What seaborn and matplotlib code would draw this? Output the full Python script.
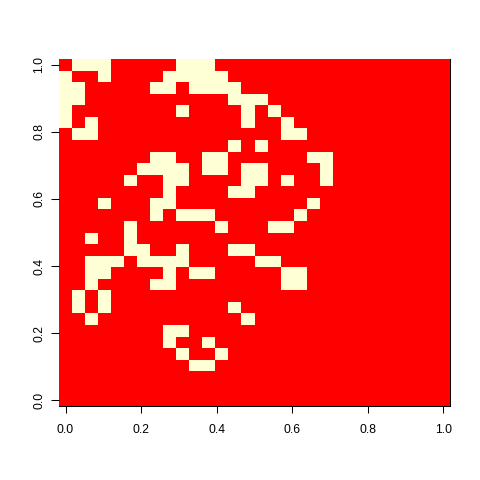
import numpy as np
import seaborn as sns
import matplotlib.pyplot as plt
from matplotlib.colors import ListedColormap

# columns of the pale cells in each row, top row first
row_00 = [1, 2, 3, 9, 10, 11]
row_01 = [0, 3, 8, 9, 10, 11, 12]
row_02 = [0, 1, 7, 8, 10, 11, 12, 13]
row_03 = [0, 1, 13, 14, 15]
row_04 = [0, 9, 14, 16]
row_05 = [0, 2, 14, 17]
row_06 = [1, 2, 17, 18]
row_07 = [13, 15]
row_08 = [7, 8, 11, 12, 19, 20]
row_09 = [6, 7, 8, 9, 11, 12, 14, 15, 20]
row_10 = [5, 8, 9, 14, 15, 17, 20]
row_11 = [8, 13, 14]
row_12 = [3, 7, 8, 19]
row_13 = [7, 9, 10, 11, 18]
row_14 = [5, 12, 16, 17]
row_15 = [2, 5]
row_16 = [5, 6, 9, 13, 14]
row_17 = [2, 3, 4, 6, 7, 8, 9, 15, 16]
row_18 = [2, 3, 8, 10, 11, 17, 18]
row_19 = [2, 7, 8, 17, 18]
row_20 = [1, 3]
row_21 = [1, 3, 13]
row_22 = [2, 14]
row_23 = [8, 9]
row_24 = [8, 11]
row_25 = [9, 12]
row_26 = [10, 11]
rows = [row_00, row_01, row_02, row_03, row_04, row_05, row_06, row_07, row_08,
        row_09, row_10, row_11, row_12, row_13, row_14, row_15, row_16, row_17,
        row_18, row_19, row_20, row_21, row_22, row_23, row_24, row_25, row_26]

tick_vals = [0.0, 0.2, 0.4, 0.6, 0.8, 1.0]
tick_labels = ['0.0', '0.2', '0.4', '0.6', '0.8', '1.0']

grid = np.zeros((30, 30))
for i, cols in enumerate(rows):
    grid[i, cols] = 1

plt.rcParams['font.family'] = ['Liberation Sans', 'DejaVu Sans']

fig = plt.figure(figsize=(4.8, 4.8), dpi=100)
ax = fig.add_axes([59 / 480, 1 - 406 / 480, 391 / 480, 347 / 480])
sns.heatmap(grid, ax=ax, cmap=ListedColormap(['#FF0000', '#FFFFD5']), cbar=False,
            vmin=0, vmax=1, square=False)

# axis runs 0 to 1 over the cell centres
ax.set_xticks([0.5 + 29 * v for v in tick_vals])
ax.set_xticklabels(tick_labels, rotation=0, fontsize=8.7)
ax.set_yticks([29.5 - 29 * v for v in tick_vals])
ax.set_yticklabels(tick_labels, rotation=90, va='center', fontsize=8.7)
ax.tick_params(axis='x', length=5.2, width=0.75, pad=7.5)
ax.tick_params(axis='y', length=5.5, width=0.75, pad=4.5)

for side in ['right', 'bottom']:
    ax.spines[side].set_visible(True)
    ax.spines[side].set_linewidth(0.75)

fig.savefig('out.png', dpi=100)
